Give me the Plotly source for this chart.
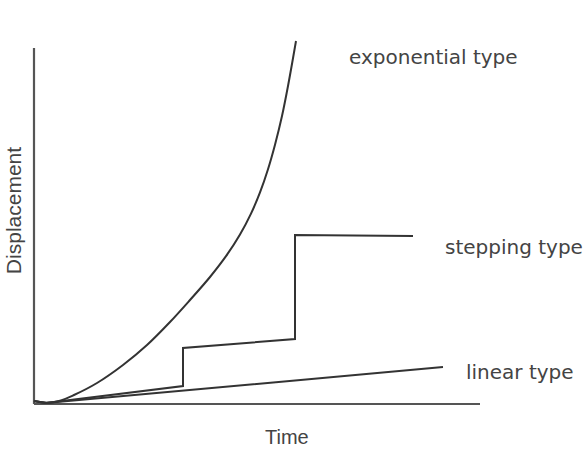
import plotly.graph_objects as go

# Values (arbitrary units: time, displacement)
exp_t = [0, 13, 26, 40, 63, 89, 113, 136, 156, 176, 192, 206, 217, 226, 234, 241, 248, 254, 262]
exp_d = [3, 1.3, 3.3, 9, 21, 39, 59, 82, 104, 127, 147.8, 169.5, 190.4, 211.6, 234.8, 259.3, 288, 318, 363]

step_t = [0, 12, 149, 149, 261, 261, 379]
step_d = [3, 1, 18, 56, 65, 169, 168]

lin_t = [0, 12, 409]
lin_d = [3, 1, 37]

xaxis_t = [0, 446]
xaxis_d = [0, 0]
yaxis_t = [0, 0]
yaxis_d = [0, 356]

labels = ["exponential type", "stepping type", "linear type"]
label_t = [399, 409, 430]
label_d = [347, 157, 32]
label_anchor = ["center", "left", "left"]

line_color = "#333333"
axis_color = "#555555"

fig = go.Figure()
fig.add_trace(go.Scatter(x=xaxis_t, y=xaxis_d, mode="lines",
                         line=dict(color=axis_color, width=2.2), hoverinfo="skip"))
fig.add_trace(go.Scatter(x=yaxis_t, y=yaxis_d, mode="lines",
                         line=dict(color=axis_color, width=2.2), hoverinfo="skip"))
fig.add_trace(go.Scatter(x=exp_t, y=exp_d, mode="lines",
                         line=dict(color=line_color, width=2, shape="spline", smoothing=1.0)))
fig.add_trace(go.Scatter(x=step_t, y=step_d, mode="lines",
                         line=dict(color=line_color, width=2)))
fig.add_trace(go.Scatter(x=lin_t, y=lin_d, mode="lines",
                         line=dict(color=line_color, width=2)))

for txt, tx, ty, anc in zip(labels, label_t, label_d, label_anchor):
    fig.add_annotation(x=tx, y=ty, text=txt, showarrow=False, xanchor=anc, yanchor="middle",
                       font=dict(family="DejaVu Sans", size=20, color="#444444"))

fig.add_annotation(x=0.5587, y=-0.0775, xref="paper", yref="paper", text="Time", showarrow=False,
                   xanchor="center", yanchor="middle",
                   font=dict(family="Liberation Sans", size=20, color="#444444"))
fig.add_annotation(x=-0.037, y=0.529, xref="paper", yref="paper", text="Displacement",
                   showarrow=False, textangle=-90, xanchor="center", yanchor="middle",
                   borderpad=0,
                   font=dict(family="Liberation Sans", size=21, color="#444444"))

fig.update_layout(
    width=583, height=450,
    margin=dict(l=30, r=93, t=34, b=42),
    paper_bgcolor="white", plot_bgcolor="white",
    showlegend=False,
    xaxis=dict(range=[-4, 456], visible=False, fixedrange=True),
    yaxis=dict(range=[-4, 370], visible=False, fixedrange=True),
)

fig.write_html("out.html")
